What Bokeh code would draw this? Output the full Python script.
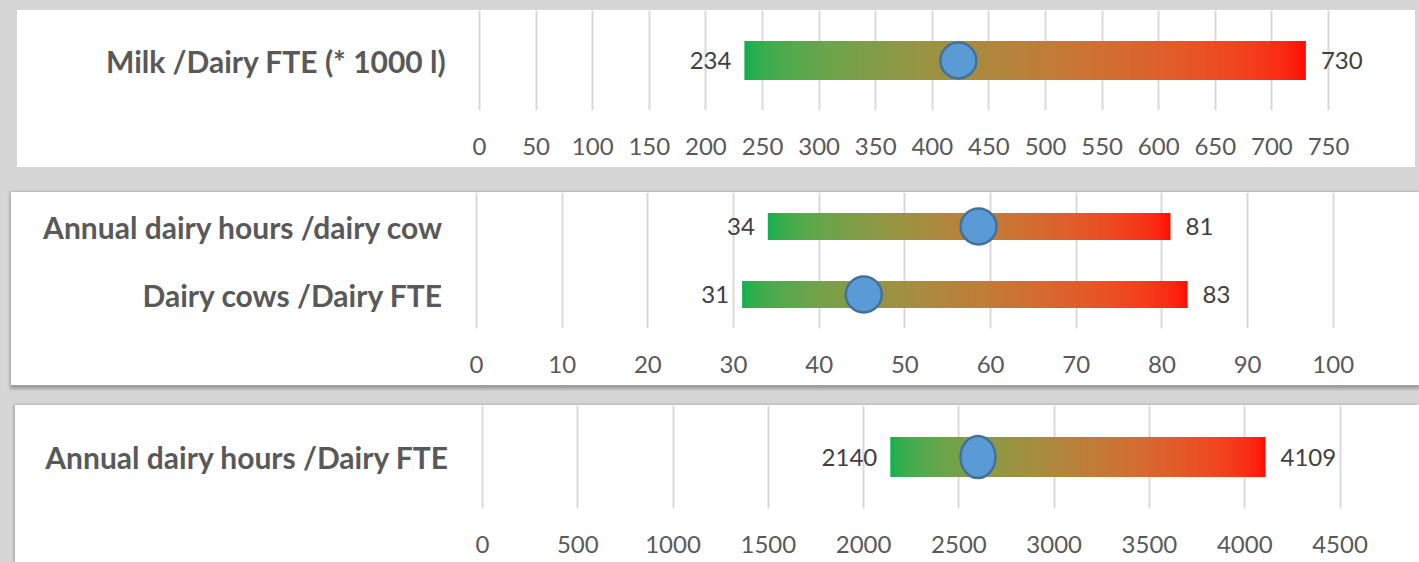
from bokeh.plotting import figure
from bokeh.layouts import column
from bokeh.models import FactorRange, Range1d, FixedTicker, ColumnDataSource
from bokeh.core.properties import value
from bokeh.embed import file_html
from bokeh.resources import INLINE

# ---------------- data ----------------
p1_categories = ["Milk /Dairy FTE (* 1000 l)"]
p1_low = [234]
p1_high = [730]
p1_point = [423]
p1_ticks = [0, 50, 100, 150, 200, 250, 300, 350, 400, 450, 500, 550, 600, 650, 700, 750]

p2_categories = ["Annual dairy hours /dairy cow", "Dairy cows /Dairy FTE"]
p2_low = [34, 31]
p2_high = [81, 83]
p2_point = [58.6, 45.2]
p2_ticks = [0, 10, 20, 30, 40, 50, 60, 70, 80, 90, 100]

p3_categories = ["Annual dairy hours /Dairy FTE"]
p3_low = [2140]
p3_high = [4109]
p3_point = [2600]
p3_ticks = [0, 500, 1000, 1500, 2000, 2500, 3000, 3500, 4000, 4500]

GREEN = (0, 176, 80)
RED = (255, 0, 0)
FONT = "Lato"
N_SLICES = 160
BORDER_L = 459
BORDER_R = 10
PAD_PX = 3


def grad_color(t):
    g = 2.2
    c = []
    for a, b in zip(GREEN, RED):
        la = (a / 255.0) ** g
        lb = (b / 255.0) ** g
        v = ((1 - t) * la + t * lb) ** (1 / g)
        c.append(int(round(v * 255)))
    return "#%02x%02x%02x" % tuple(c)


def make_panel(cats, lows, highs, points, ticks, xmax, px_per_unit, width, height,
               bb, bar_h, margin, extend_left, ellipse=False):
    factors = list(reversed(cats))
    xmin = -PAD_PX / px_per_unit
    p = figure(width=width, height=height, y_range=FactorRange(factors=factors),
               x_range=Range1d(xmin, xmax), output_backend="svg",
               toolbar_location=None, min_border_left=BORDER_L,
               min_border_right=BORDER_R, min_border_top=0,
               min_border_bottom=bb, margin=margin)
    p.outline_line_color = None
    p.background_fill_color = None
    p.border_fill_color = None
    p.styles = {"background-color": "white",
                "box-shadow": "-%dpx 0 0 0 white, -%dpx 2px 3px 2px #9c9c9c"
                % (extend_left, extend_left - 1)}

    # gradient bars built from overlapping slices
    sl_left, sl_right, sl_y, sl_col = [], [], [], []
    for c, lo, hi in zip(cats, lows, highs):
        for i in range(N_SLICES):
            t0 = i / N_SLICES
            t1 = min(1.0, (i + 1.7) / N_SLICES)
            sl_left.append(lo + (hi - lo) * t0)
            sl_right.append(lo + (hi - lo) * t1)
            sl_y.append(c)
            sl_col.append(grad_color((i + 0.5) / N_SLICES))
    src = ColumnDataSource(dict(left=sl_left, right=sl_right, y=sl_y, c=sl_col))
    p.hbar(y="y", left="left", right="right", height=bar_h, source=src,
           fill_color="c", line_color=None)

    # points
    if ellipse:
        p.ellipse(x=points, y=cats, width=35, height=42, width_units="screen",
                  height_units="screen", fill_color="#5B9BD5",
                  line_color="#41719C", line_width=2.5)
    else:
        p.scatter(x=points, y=cats, marker="circle", size=36,
                  fill_color="#5B9BD5", line_color="#41719C", line_width=2.5)

    # data labels
    p.text(x=lows, y=cats, text=[str(v) for v in lows], text_align="right",
           text_baseline="middle", x_offset=-13, text_font=value(FONT),
           text_font_size="24px", text_color="#404040")
    p.text(x=highs, y=cats, text=[str(v) for v in highs], text_align="left",
           text_baseline="middle", x_offset=15, text_font=value(FONT),
           text_font_size="24px", text_color="#404040")

    # axes
    xa = p.xaxis[0]
    xa.ticker = FixedTicker(ticks=ticks)
    xa.axis_line_color = None
    xa.major_tick_line_color = None
    xa.minor_tick_line_color = None
    xa.major_label_text_font = FONT
    xa.major_label_text_font_size = "24px"
    xa.major_label_text_color = "#595959"
    xa.major_label_standoff = 21

    ya = p.yaxis[0]
    ya.axis_line_color = None
    ya.major_tick_line_color = None
    ya.minor_tick_line_color = None
    ya.major_label_text_font = FONT
    ya.major_label_text_font_style = "bold"
    ya.major_label_text_font_size = "30px"
    ya.major_label_text_color = "#595959"
    ya.major_label_standoff = 24

    p.xgrid.grid_line_color = "#d9d9d9"
    p.xgrid.grid_line_width = 2
    p.xgrid.ticker = FixedTicker(ticks=ticks)
    p.ygrid.grid_line_color = None
    return p


p1 = make_panel(p1_categories, p1_low, p1_high, p1_point, p1_ticks, 818.0, 1.132,
                1398, 157, 57, 0.39, (10, 4, 0, 17), 0)
p2 = make_panel(p2_categories, p2_low, p2_high, p2_point, p2_ticks, 108.9, 8.565,
                1405, 193, 57, 0.4, (25, 0, 0, 14), 3)
p3 = make_panel(p3_categories, p3_low, p3_high, p3_point, p3_ticks, 4864.7, 0.19056,
                1399, 157, 54, 0.39, (20, 0, 0, 20), 5, ellipse=True)

layout = column(p1, p2, p3, spacing=0, width=1419, height=562,
                styles={"background-color": "#d6d6d6"})

open("out.html", "w").write(file_html(layout, INLINE))
